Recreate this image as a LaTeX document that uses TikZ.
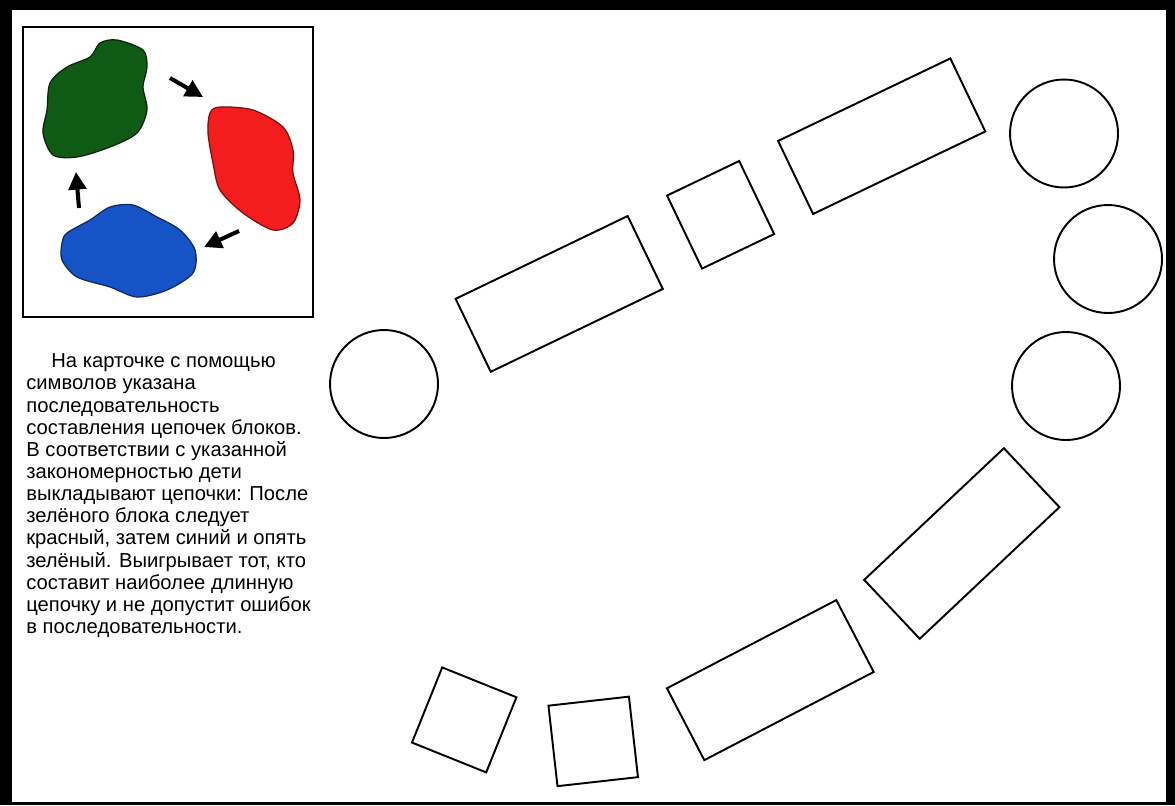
\documentclass[tikz,border=0pt]{standalone}
\usepackage{fontspec}
\setmainfont{Liberation Sans}
\usetikzlibrary{arrows.meta,positioning}
\definecolor{BlobGreen}{HTML}{0F5A14}
\definecolor{BlobRed}{HTML}{F41C1C}
\definecolor{BlobBlue}{HTML}{1653C6}
\tikzset{
  block/.style={draw,line width=1.1pt,inner sep=0pt,minimum height=1.62cm},
  ring/.style={draw,circle,line width=1.1pt,inner sep=0pt,minimum size=2.16cm},
  blob/.style={line width=0.7pt},
  seq/.style={-{Triangle[length=10pt,width=10pt]},line width=2.3pt}
}

\begin{document}
\begin{tikzpicture}[x=0.02cm,y=-0.02cm]
\useasboundingbox (0,0) rectangle (1175,805);
% frame of the sheet
\fill[black] (0,0) rectangle (1175,805);
\fill[white] (12,10) rectangle (1166,802);
% card with the order of colours
\draw[line width=0.8pt] (23,27) rectangle (313,317);
\draw[blob,fill=BlobGreen,draw=black!60!BlobGreen] plot[smooth cycle] coordinates {(117,40) (143,50) (147,67) (143,87) (147,110) (137,133) (110,147) (77,157) (53,155) (43,133) (47,110) (50,83) (67,67) (90,57) (100,43)};
\draw[blob,fill=BlobRed,draw=black!50!BlobRed] plot[smooth cycle] coordinates {(220,107) (253,110) (283,127) (293,150) (293,173) (300,200) (293,223) (273,230) (243,213) (220,190) (213,163) (208,133) (210,113)};
\draw[blob,fill=BlobBlue,draw=black!50!BlobBlue] plot[smooth cycle] coordinates {(67,233) (90,220) (110,207) (133,205) (157,217) (180,230) (195,250) (193,273) (167,290) (137,297) (110,287) (77,277) (62,260) (62,243)};
\coordinate (gr1) at (170,78);  \coordinate (gr2) at (203,97);
\coordinate (rb1) at (239,231); \coordinate (rb2) at (204,247);
\coordinate (bg1) at (79,208);  \coordinate (bg2) at (76,172);
\draw[seq] (gr1) -- (gr2);
\draw[seq] (rb1) -- (rb2);
\draw[seq] (bg1) -- (bg2);
% rules of the game
\node[anchor=north west,align=left,inner sep=0pt,font=\fontsize{11.5}{12.6}\selectfont] (rules) at (26,353.5) {%
\hspace*{0.5cm}На карточке с помощью\\
символов указана\\
последовательность\\
составления цепочек блоков.\\
В соответствии с указанной\\
закономерностью дети\\
выкладывают цепочки: После\\
зелёного блока следует\\
красный, затем синий и опять\\
зелёный. Выигрывает тот, кто\\
составит наиболее длинную\\
цепочку и не допустит ошибок\\
в последовательности.};
% chain of blocks
\node[ring] (c1) at (384,384) {};
\foreach \name/\x/\y/\w/\a in {rA/559.2/293.9/3.82/25.7, sB/720.6/214.8/1.6/25.6, rC/881.7/136.2/3.82/25.6,
  rG/961.8/543.5/3.84/43.3, rH/770.3/680.1/3.82/27.5, sI/593.2/741.4/1.62/6.4, sJ/464.2/719.9/1.6/-21.9}
  \node[block,minimum width=\w cm,rotate=\a] (\name) at (\x,\y) {};
\node[ring] (cD) at (1064,133.5) {};
\node[ring] (cE) at (1108,259) {};
\node[ring] (cF) at (1066,386) {};
\end{tikzpicture}
\end{document}
